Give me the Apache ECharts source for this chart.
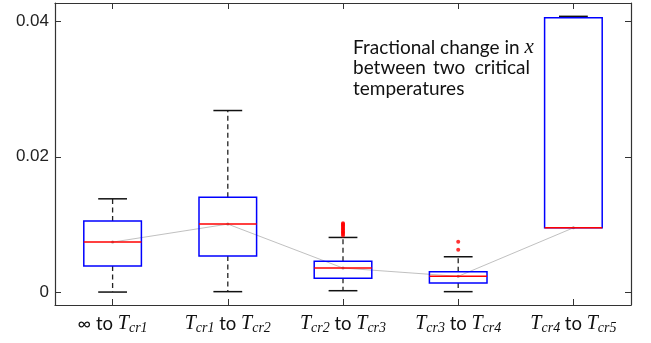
<!DOCTYPE html>
<html><head><meta charset="utf-8">
<script src="https://cdn.jsdelivr.net/npm/echarts@6/dist/echarts.min.js"></script>
<style>html,body{margin:0;padding:0;background:#fff}#c{width:651px;height:343px}</style>
</head><body><div id="c"></div>
<script>
// categories (T followed by subscript)
const categories = ['∞ to Tcr1', 'Tcr1 to Tcr2', 'Tcr2 to Tcr3', 'Tcr3 to Tcr4', 'Tcr4 to Tcr5'];
// box statistics per category
const lowWhisker  = [0.00004, 0.0001, 0.00024, 0.0001, 0.00952];
const q1          = [0.00388, 0.00535, 0.00206, 0.00137, 0.00952];
const median      = [0.00741, 0.01007, 0.00358, 0.00236, 0.00952];
const q3          = [0.01051, 0.01405, 0.00457, 0.00304, 0.04054];
const highWhisker = [0.0138, 0.02683, 0.0081, 0.00525, 0.04073];
// outliers [categoryIndex, value]
const outliers = [
  [2, 0.0084], [2, 0.0086], [2, 0.0088], [2, 0.0089], [2, 0.0091], [2, 0.0093],
  [2, 0.0094], [2, 0.0096], [2, 0.0098], [2, 0.0099], [2, 0.0101], [2, 0.0102],
  [3, 0.00628], [3, 0.00746]
];
const yTicks = [0, 0.02, 0.04];

const boxData = categories.map((c, i) => [i, lowWhisker[i], q1[i], median[i], q3[i], highWhisker[i]]);

function renderBox(params, api) {
  const i = api.value(0);
  const band = api.size([1, 0])[0];
  const bw = band * 0.5, cw = band * 0.25;
  const pLo = api.coord([i, api.value(1)]);
  const pQ1 = api.coord([i, api.value(2)]);
  const pMd = api.coord([i, api.value(3)]);
  const pQ3 = api.coord([i, api.value(4)]);
  const pHi = api.coord([i, api.value(5)]);
  const x = pMd[0];
  const children = [];
  const dash = {stroke: '#222', lineWidth: 1.3, lineDash: [5, 3.5]};
  if (pLo[1] - pQ1[1] > 0.5) {
    children.push({type: 'line', shape: {x1: x, y1: pQ1[1], x2: x, y2: pLo[1]}, style: dash});
    children.push({type: 'line', shape: {x1: x - cw / 2, y1: pLo[1], x2: x + cw / 2, y2: pLo[1]}, style: {stroke: '#111', lineWidth: 1.5}});
  }
  children.push({type: 'line', shape: {x1: x, y1: pQ3[1], x2: x, y2: pHi[1]}, style: dash});
  children.push({type: 'line', shape: {x1: x - cw / 2, y1: pHi[1], x2: x + cw / 2, y2: pHi[1]}, style: {stroke: '#111', lineWidth: 1.5}});
  children.push({type: 'rect', shape: {x: x - bw / 2, y: pQ3[1], width: bw, height: pQ1[1] - pQ3[1]}, style: {fill: null, stroke: '#0000ff', lineWidth: 1.5}});
  children.push({type: 'line', shape: {x1: x - bw / 2, y1: pMd[1], x2: x + bw / 2, y2: pMd[1]}, style: {stroke: '#ff0000', lineWidth: 1.5}});
  return {type: 'group', children};
}

const chart = echarts.init(document.getElementById('c'), null, {renderer: 'canvas'});
const axisLine = {show: true, onZero: false, lineStyle: {color: '#333', width: 1.2}};
chart.setOption({
  animation: false,
  grid: {left: 55, right: 20, top: 3, bottom: 38},
  xAxis: [{
    type: 'category', data: categories, position: 'bottom',
    axisLine, axisTick: {show: true, inside: true, length: 6, alignWithLabel: true, lineStyle: {color: '#333'}},
    axisLabel: {
      interval: 0, margin: 8, color: '#111', fontFamily: 'Lato', fontSize: 18,
      formatter: v => v.split(' ').map(w => w === 'to' ? '{n| to }' : w === '∞' ? '{n|∞}' : '{t|T}{s|' + w.slice(1) + '}').join(''),
      rich: {
        n: {fontFamily: 'Lato', fontSize: 18.5, color: '#111'},
        t: {fontFamily: 'Liberation Serif', fontStyle: 'italic', fontSize: 20, color: '#111'},
        s: {fontFamily: 'Liberation Serif', fontStyle: 'italic', fontSize: 14, color: '#111', padding: [8, 0, 0, 0]}
      }
    }
  }, {
    type: 'category', data: categories, position: 'top',
    axisLine, axisTick: {show: true, inside: true, length: 6, alignWithLabel: true, lineStyle: {color: '#333'}},
    axisLabel: {show: false}
  }],
  yAxis: [{
    type: 'value', min: -0.00187, max: 0.0427, position: 'left',
    splitLine: {show: false}, axisLine,
    axisTick: {show: true, inside: true, length: 6, customValues: yTicks, lineStyle: {color: '#333'}},
    axisLabel: {customValues: yTicks, fontFamily: 'Liberation Sans', fontSize: 17, color: '#222', margin: 6,
      formatter: v => String(v)}
  }, {
    type: 'value', min: -0.00187, max: 0.0427, position: 'right',
    splitLine: {show: false}, axisLine,
    axisTick: {show: true, inside: true, length: 6, customValues: yTicks, lineStyle: {color: '#333'}},
    axisLabel: {show: false}
  }],
  series: [{
    type: 'line', data: median, symbol: 'circle', symbolSize: 3,
    lineStyle: {color: '#b0b0b0', width: 0.8}, itemStyle: {color: '#999'}, z: 1
  }, {
    type: 'custom', data: boxData, renderItem: renderBox, encode: {x: 0, y: [1, 2, 3, 4, 5]}, z: 2
  }, {
    type: 'scatter', data: outliers, symbol: 'circle', symbolSize: 4,
    itemStyle: {color: '#ff0000'}, z: 3
  }],
  graphic: [
    {type: 'text', left: 353, top: 37, style: {text: '{a|Fractional change in }{x|x}', rich: {
      a: {fontFamily: 'Lato', fontSize: 19, fill: '#111'},
      x: {fontFamily: 'Liberation Serif', fontStyle: 'italic', fontSize: 21, fill: '#111'}}}},
    {type: 'text', left: 353, top: 58, style: {text: 'between', fontFamily: 'Lato', fontSize: 19, fill: '#111'}},
    {type: 'text', left: 433, top: 58, style: {text: 'two', fontFamily: 'Lato', fontSize: 19, fill: '#111'}},
    {type: 'text', right: 121, top: 58, style: {text: 'critical', fontFamily: 'Lato', fontSize: 19, fill: '#111'}},
    {type: 'text', left: 353, top: 79, style: {text: 'temperatures', fontFamily: 'Lato', fontSize: 19, fill: '#111'}}
  ]
});
</script></body></html>
